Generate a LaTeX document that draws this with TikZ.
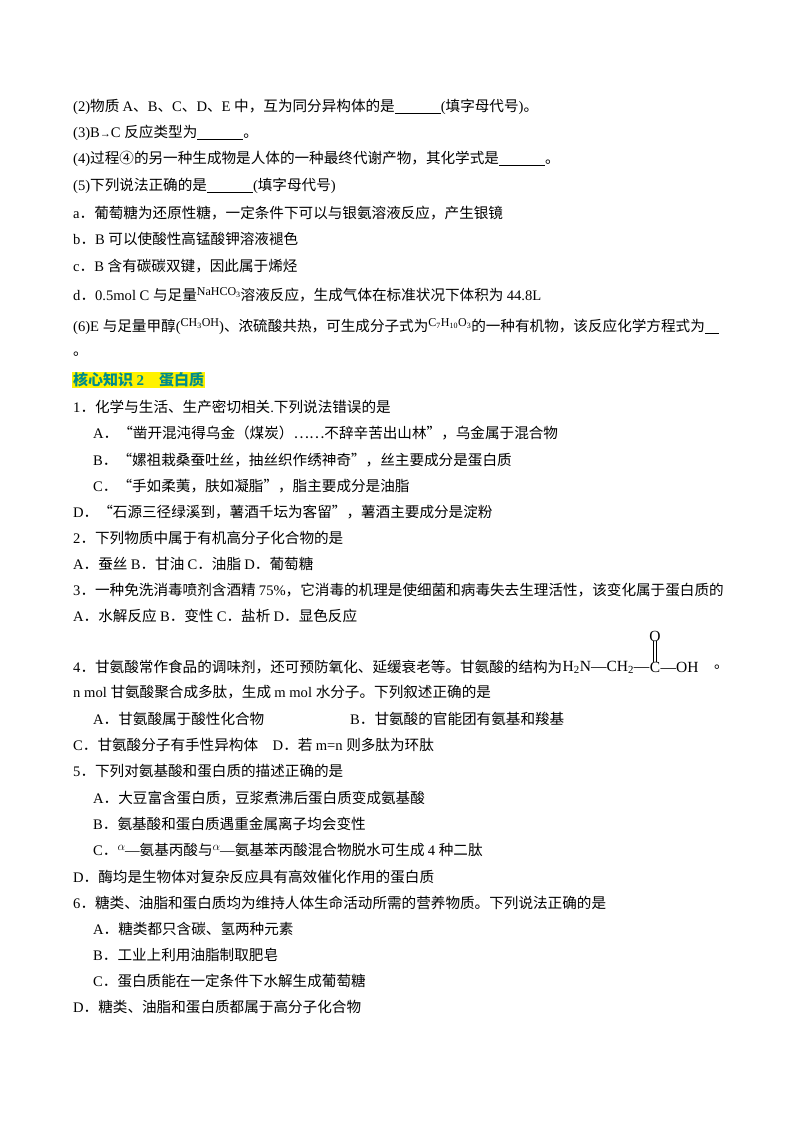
\documentclass[tikz,border=0pt]{standalone}
\usepackage{fontspec}
\setmainfont{Liberation Serif}
\newfontfamily\cjk{Noto Sans CJK SC}
\newfontfamily\arrf{DejaVu Sans}
\newcommand\latf{\rmfamily}
\XeTeXinterchartokenstate=1
\newXeTeXintercharclass\cjkcls
\newcount\cc
\def\setrange#1#2{\cc=#1\relax\loop\XeTeXcharclass\cc=\cjkcls\relax\ifnum\cc<#2\advance\cc by 1\repeat}
\setrange{"4E00}{"9FFF}
\setrange{"3000}{"303F}
\setrange{"FF00}{"FFEF}
\setrange{"2018}{"201D}
\setrange{"2026}{"2026}
\setrange{"2460}{"2473}
\XeTeXinterchartoks 0 \cjkcls = {\cjk}
\XeTeXinterchartoks 4095 \cjkcls = {\cjk}
\XeTeXinterchartoks \cjkcls 0 = {\latf}
\XeTeXinterchartoks 4095 0 = {\latf}
\definecolor{headc}{RGB}{0,140,140}
\tikzset{t/.style={anchor=west,inner sep=0pt,font=\fontsize{14.6}{16}\selectfont}}
\newcommand\bl[1]{\underline{\hspace{#1}}}
\newcommand\up[1]{\raisebox{5pt}{\latf\fontsize{12}{12}\selectfont #1}}
\begin{document}
\begin{tikzpicture}[x=1pt,y=1pt]
\useasboundingbox (0,0) rectangle (800,-1132);
\node[t] (l1) at (73,-107) {(2)物质 A、B、C、D、E 中，互为同分异构体的是\bl{46pt}(填字母代号)。};
\node[t] (l2) at (73,-133) {(3)B{\arrf\fontsize{11}{12}\selectfont→}C 反应类型为\bl{46pt}。};
\node[t] (l3) at (73,-159) {(4)过程④的另一种生成物是人体的一种最终代谢产物，其化学式是\bl{46pt}。};
\node[t] (l4) at (73,-186) {(5)下列说法正确的是\bl{46pt}(填字母代号)};
\node[t] (l5) at (73,-213) {a．葡萄糖为还原性糖，一定条件下可以与银氨溶液反应，产生银镜};
\node[t] (l6) at (73,-239) {b．B 可以使酸性高锰酸钾溶液褪色};
\node[t] (l7) at (73,-266) {c．B 含有碳碳双键，因此属于烯烃};
\node[t] (l8) at (73,-295) {d．0.5mol C 与足量\up{NaHCO\textsubscript{3}}溶液反应，生成气体在标准状况下体积为 44.8L};
\node[t] (l9) at (73,-327) {(6)E 与足量甲醇(\up{CH\textsubscript{3}OH})、浓硫酸共热，可生成分子式为\up{C\textsubscript{7}H\textsubscript{10}O\textsubscript{3}}的一种有机物，该反应化学方程式为\bl{14pt}};
\node[t] (l10) at (73,-354) {。};
\node[t,fill=yellow,inner sep=1pt,text=headc,font=\fontsize{15}{16}\selectfont\bfseries] (h) at (72,-380) {核心知识 2　蛋白质};
\node[t] (q1) at (73,-407) {1．化学与生活、生产密切相关.下列说法错误的是};
\node[t] (q1a) at (93,-433) {A．“凿开混沌得乌金（煤炭）……不辞辛苦出山林”，乌金属于混合物};
\node[t] (q1b) at (93,-460) {B．“嫘祖栽桑蚕吐丝，抽丝织作绣神奇”，丝主要成分是蛋白质};
\node[t] (q1c) at (93,-486) {C．“手如柔荑，肤如凝脂”，脂主要成分是油脂};
\node[t] (q1d) at (73,-512) {D．“石源三径绿溪到，薯酒千坛为客留”，薯酒主要成分是淀粉};
\node[t] (q2) at (73,-538) {2．下列物质中属于有机高分子化合物的是};
\node[t] (q2a) at (73,-564) {A．蚕丝 B．甘油 C．油脂 D．葡萄糖};
\node[t] (q3) at (73,-590) {3．一种免洗消毒喷剂含酒精 75\%，它消毒的机理是使细菌和病毒失去生理活性，该变化属于蛋白质的};
\node[t] (q3a) at (73,-616) {A．水解反应 B．变性 C．盐析 D．显色反应};
\node[t] (q4) at (73,-667) {4．甘氨酸常作食品的调味剂，还可预防氧化、延缓衰老等。甘氨酸的结构为};
\node[t,font=\fontsize{15.5}{16}\selectfont\latf] (f1) at (q4.east) {H\textsubscript{2}N—CH\textsubscript{2}—};
\node[t,font=\fontsize{15.5}{16}\selectfont\latf] (fc) at (f1.east) {C};
\node[t,font=\fontsize{15.5}{16}\selectfont\latf] (f2) at (fc.east) {—OH};
\node[inner sep=0pt,font=\fontsize{15.5}{16}\selectfont\latf] (fo) at (fc.center |- 0,-636) {O};
\draw[line width=0.6pt] ([xshift=-1.3pt]fo.south) -- ([xshift=-1.3pt]fc.north);
\draw[line width=0.6pt] ([xshift=1.3pt]fo.south) -- ([xshift=1.3pt]fc.north);
\node[t] (q4e) at (714,-667) {。};
\node[t] (q4b) at (73,-692) {n mol 甘氨酸聚合成多肽，生成 m mol 水分子。下列叙述正确的是};
\node[t] (q4o1) at (93,-719) {A．甘氨酸属于酸性化合物};
\node[t] (q4o2) at (350,-719) {B．甘氨酸的官能团有氨基和羧基};
\node[t] (q4o3) at (73,-745) {C．甘氨酸分子有手性异构体　D．若 m=n 则多肽为环肽};
\node[t] (q5) at (73,-771) {5．下列对氨基酸和蛋白质的描述正确的是};
\node[t] (q5a) at (93,-798) {A．大豆富含蛋白质，豆浆煮沸后蛋白质变成氨基酸};
\node[t] (q5b) at (93,-824) {B．氨基酸和蛋白质遇重金属离子均会变性};
\node[t] (q5c) at (93,-850) {C．\up{$\alpha$}—氨基丙酸与\up{$\alpha$}—氨基苯丙酸混合物脱水可生成 4 种二肽};
\node[t] (q5d) at (73,-877) {D．酶均是生物体对复杂反应具有高效催化作用的蛋白质};
\node[t] (q6) at (73,-903) {6．糖类、油脂和蛋白质均为维持人体生命活动所需的营养物质。下列说法正确的是};
\node[t] (q6a) at (93,-929) {A．糖类都只含碳、氢两种元素};
\node[t] (q6b) at (93,-955) {B．工业上利用油脂制取肥皂};
\node[t] (q6c) at (93,-981) {C．蛋白质能在一定条件下水解生成葡萄糖};
\node[t] (q6d) at (73,-1007) {D．糖类、油脂和蛋白质都属于高分子化合物};
\end{tikzpicture}
\end{document}
